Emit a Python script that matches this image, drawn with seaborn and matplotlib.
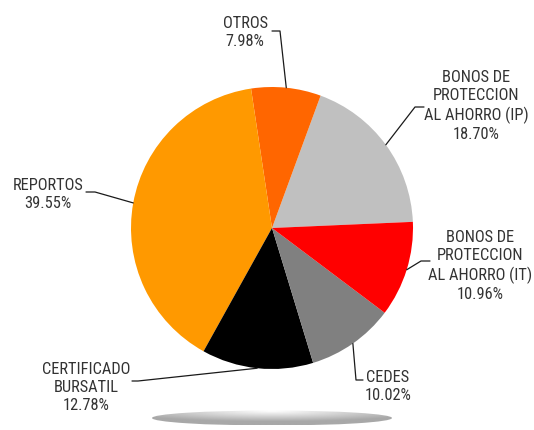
import numpy as np
import seaborn as sns
import matplotlib.pyplot as plt
from matplotlib.patches import Ellipse

sns.set_theme(style="white")
plt.rcParams['font.family'] = ['Roboto Condensed', 'DejaVu Sans']

# datos (orden antihorario desde ~3 grados)
etiquetas = ["BONOS DE\nPROTECCION\nAL AHORRO (IP)", "OTROS", "REPORTOS",
             "CERTIFICADO\nBURSATIL", "CEDES", "BONOS DE\nPROTECCION\nAL AHORRO (IT)"]
porcentajes = [18.70, 7.98, 39.55, 12.78, 10.02, 10.96]
colores = ["#C0C0C0", "#FF6600", "#FF9900", "#000000", "#808080", "#FF0000"]

H = 430
cx, cy, r = 272, H - 228, 141

# posicion del texto, codo y fin de la linea guia (coordenadas de imagen)
pos_texto = [(476, 106), (245, 32), (48, 195), (86, 387), (388, 387), (480, 266)]
codos = [(415, 107), (280, 31), (95, 192), (138, 381), (356, 380), (421, 261)]
finales = [(424, 107), (272, 31), (86, 192), (132, 381), (363, 380), (430, 261)]

fig = plt.figure(figsize=(5.34, 4.30), dpi=100)
ax = fig.add_axes([0, 0, 1, 1])

wedges, _ = ax.pie(porcentajes, colors=colores, startangle=2.5, counterclock=True,
                   center=(cx, cy), radius=r, wedgeprops=dict(linewidth=0))

for w, lab, val, tp, kn, fin in zip(wedges, etiquetas, porcentajes, pos_texto, codos, finales):
    ang = np.deg2rad((w.theta1 + w.theta2) / 2)
    ax0 = cx + r * np.cos(ang)
    ay0 = cy + r * np.sin(ang)
    ax.plot([ax0, kn[0], fin[0]], [ay0, H - kn[1], H - fin[1]], color="#1a1a1a", lw=0.9)
    ax.text(tp[0], H - tp[1], f"{lab}\n{val:.2f}%", ha="center", va="center",
            fontsize=11.8, color="#333333", linespacing=1.25)

# sombra
sx, sy, sw, sh = 272, H - 418, 240, 15
xs = np.linspace(-1, 1, 200)
ys = np.linspace(-1, 1, 40)
X, Y = np.meshgrid(xs, ys)
grad = 0.66 + 0.34 * np.clip(1 - np.sqrt((X * 0.8) ** 2 + ((Y - 0.9) * 0.7) ** 2), 0, 1)
im = ax.imshow(grad, cmap="gray", vmin=0, vmax=1, origin="lower",
               extent=[sx - sw / 2, sx + sw / 2, sy - sh / 2, sy + sh / 2], aspect="auto")
elip = Ellipse((sx, sy), sw, sh, facecolor="none", edgecolor="none")
ax.add_patch(elip)
im.set_clip_path(elip)

ax.set_xlim(0, 534)
ax.set_ylim(0, H)
ax.set_aspect("equal")
ax.axis("off")

fig.savefig("out.png", dpi=100)
